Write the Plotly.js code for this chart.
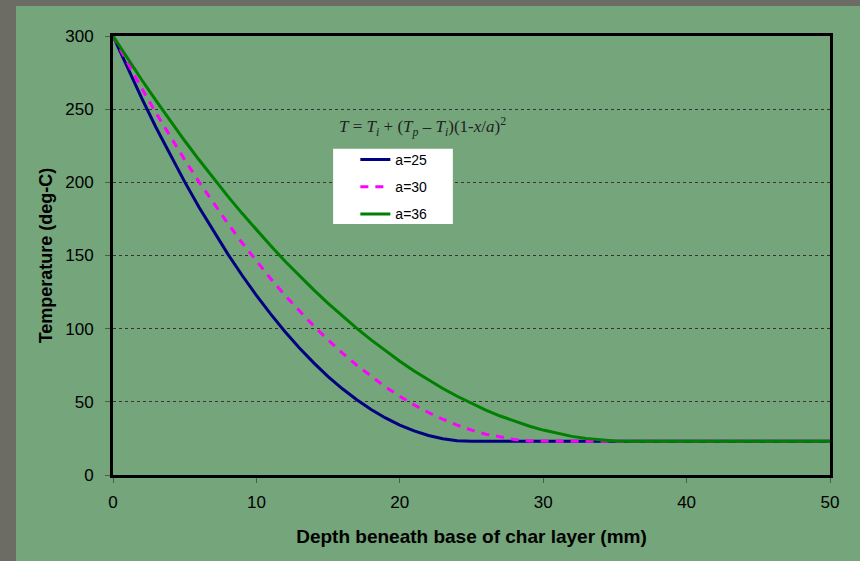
<!DOCTYPE html>
<html>
<head>
<meta charset="utf-8">
<script src="https://cdn.plot.ly/plotly-3.0.1.min.js"></script>
<style>
html,body{margin:0;padding:0;background:rgb(108,108,100);width:860px;height:561px;overflow:hidden;}
#chart{position:absolute;left:16px;top:6px;width:844px;height:555px;}
</style>
</head>
<body>
<div id="chart"></div>
<script>
// Depth beneath base of char layer (mm)
const depth = [0,1,2,3,4,5,6,7,8,9,10,11,12,13,14,15,16,17,18,19,20,21,22,23,24,25,26,27,28,29,30,31,32,33,34,35,36,50];
// Temperature (deg-C)
const tempA25 = [300,278.3,257.5,237.5,218.5,200.3,183.0,166.6,151.1,136.5,122.7,109.9,97.9,86.8,76.6,67.3,58.9,51.4,44.7,39.0,34.1,30.1,27.0,24.8,23.4,23,23,23,23,23,23,23,23,23,23,23,23,23];
const tempA30 = [300,281.8,264.3,247.4,231.1,215.4,200.3,185.8,172.0,158.7,146.1,134.1,122.7,111.9,101.8,92.3,83.3,75.0,67.3,60.2,53.8,47.9,42.7,38.1,34.1,30.7,27.9,25.8,24.2,23.3,23,23,23,23,23,23,23,23];
const tempA36 = [300,284.8,270.1,255.8,241.9,228.4,215.4,202.8,190.6,178.8,167.5,156.6,146.1,136.1,126.5,117.3,108.5,100.2,92.3,84.8,77.7,71.1,64.9,59.1,53.8,48.9,44.4,40.3,36.7,33.5,30.7,28.3,26.4,24.9,23.9,23.2,23,23];
const seriesNames = ['a=25','a=30','a=36'];
const xTicks = [0,10,20,30,40,50];
const yTicks = [0,50,100,150,200,250,300];

const traces = [
  {x: depth, y: tempA25, name: seriesNames[0], legendgroup:'g1', mode:'lines', line:{color:'#000080', width:3}},
  {x: depth, y: tempA30, name: seriesNames[1], legendgroup:'g2', mode:'lines', line:{color:'#FF00FF', width:3, dash:'8px,7px'}},
  {x: depth, y: tempA36, name: seriesNames[2], legendgroup:'g3', mode:'lines', line:{color:'#008000', width:3}}
];

const layout = {
  width: 844, height: 555,
  paper_bgcolor: 'rgb(116,165,123)',
  plot_bgcolor: 'rgba(0,0,0,0)',
  margin: {l: 97, r: 30, t: 30, b: 86},
  font: {family: 'Liberation Sans, Arial, sans-serif', color: '#000', size: 17},
  showlegend: true,
  legend: {
    x: 0.338, y: 0.754, xanchor: 'left', yanchor: 'top',
    bgcolor: 'rgba(0,0,0,0)', borderwidth: 0,
    font: {size: 14, family: 'Liberation Sans, Arial, sans-serif', color:'#000'},
    tracegroupgap: 6
  },
  shapes: [{
    type: 'rect', xref: 'paper', yref: 'paper', layer: 'above',
    x0: 0.307, x1: 0.474, y0: 0.572, y1: 0.743,
    fillcolor: '#ffffff', line: {width: 0}
  }],
  xaxis: {
    range: [0, 50], tickvals: xTicks, ticktext: xTicks.map(String),
    showgrid: false, zeroline: false,
    showline: true, linecolor: '#000', linewidth: 3, mirror: true,
    ticks: 'outside', ticklen: 5, tickcolor: '#555', tickwidth: 1,
    ticklabelstandoff: 5,
    tickfont: {size: 17},
    title: {text: '<b>Depth beneath base of char layer (mm)</b>', font: {size: 19}, standoff: 19}
  },
  yaxis: {
    range: [0, 300], tickvals: yTicks, ticktext: yTicks.map(String),
    showgrid: true, gridcolor: '#333', gridwidth: 1, griddash: 'dot',
    zeroline: false,
    showline: true, linecolor: '#000', linewidth: 3, mirror: true,
    ticks: 'outside', ticklen: 5, tickcolor: '#555', tickwidth: 1,
    ticklabelstandoff: 8,
    tickfont: {size: 17},
    title: {text: '<b>Temperature (deg-C)</b>', font: {size: 18}, standoff: 8}
  },
  annotations: [{
    xref: 'paper', yref: 'paper', x: 0.312, y: 0.793, xanchor: 'left', yanchor: 'middle',
    showarrow: false,
    text: '<i>T</i> = <i>T<sub>i</sub></i> + (<i>T<sub>p</sub></i> – <i>T<sub>i</sub></i>)(1-<i>x</i>/<i>a</i>)<sup>2</sup>',
    font: {family: 'Liberation Serif, Times New Roman, serif', size: 17, color: '#222'}
  }]
};

Plotly.newPlot('chart', traces, layout, {displayModeBar: false, staticPlot: true});
</script>
</body>
</html>
